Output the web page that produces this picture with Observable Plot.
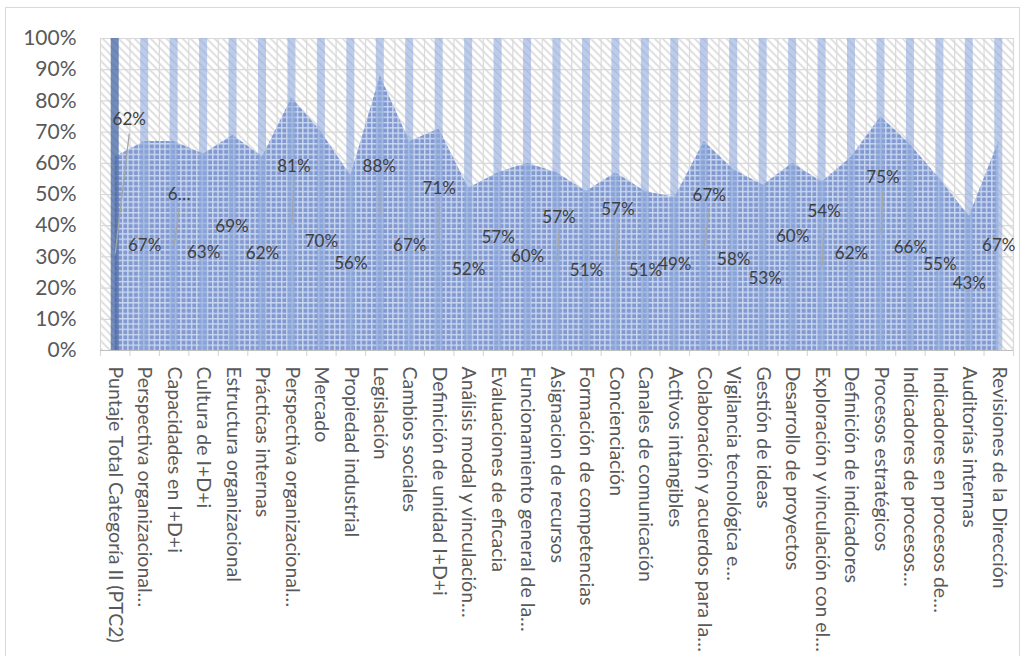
<!DOCTYPE html>
<html><head><meta charset="utf-8">
<script src="https://cdn.jsdelivr.net/npm/d3@7"></script>
<script src="https://cdn.jsdelivr.net/npm/@observablehq/plot@0.6"></script>
<style>
html,body{margin:0;padding:0;background:#fff;}
#wrap{position:relative;width:1027px;height:656px;overflow:hidden;}
#chart{position:absolute;left:0;top:0;}
#border{position:absolute;left:5px;top:7px;width:1015px;height:660px;border:1px solid #d9d9d9;box-sizing:border-box;pointer-events:none;}
</style></head><body>
<div id="wrap"><div id="chart"></div><div id="border"></div></div>
<script>
const categories = [
  "Puntaje Total Categoría II (PTC2)",
  "Perspectiva organizacional…",
  "Capacidades en I+D+i",
  "Cultura de I+D+i",
  "Estructura organizacional",
  "Prácticas internas",
  "Perspectiva organizacional…",
  "Mercado",
  "Propiedad industrial",
  "Legislación",
  "Cambios sociales",
  "Definición de unidad I+D+i",
  "Análisis modal y vinculación…",
  "Evaluaciones de eficacia",
  "Funcionamiento general de la…",
  "Asignacion de recursos",
  "Formación de competencias",
  "Concienciación",
  "Canales de comunicación",
  "Activos intangibles",
  "Colaboración y acuerdos para la…",
  "Vigilancia tecnológica e…",
  "Gestión de ideas",
  "Desarrollo de proyectos",
  "Exploración y vinculación con el…",
  "Definición de indicadores",
  "Procesos estratégicos",
  "Indicadores de procesos…",
  "Indicadores en procesos de…",
  "Auditorías internas",
  "Revisiones de la Dirección"
];
const scores = [0.62,0.67,0.67,0.63,0.69,0.62,0.81,0.70,0.56,0.88,0.67,0.71,0.52,0.57,0.60,0.57,0.51,0.57,0.51,0.49,0.67,0.58,0.53,0.60,0.54,0.62,0.75,0.66,0.55,0.43,0.67];
const maxScores = [1,1,1,1,1,1,1,1,1,1,1,1,1,1,1,1,1,1,1,1,1,1,1,1,1,1,1,1,1,1,1];
const dataLabels = ["62%","67%","6…","63%","69%","62%","81%","70%","56%","88%","67%","71%","52%","57%","60%","57%","51%","57%","51%","49%","67%","58%","53%","60%","54%","62%","75%","66%","55%","43%","67%"];
const yTicks = [0,0.1,0.2,0.3,0.4,0.5,0.6,0.7,0.8,0.9,1.0];

// label placement (Excel moved labels): level in axis units, horizontal nudge in px, leader line
const labelMoves = {
  0:{at:0.740,dx:14,leader:true}, 2:{at:0.50,dx:5,leader:true}, 4:{at:0.398,dx:-1},
  6:{at:0.591,dx:2,leader:true}, 9:{at:0.588,dx:-1,leader:true}, 11:{at:0.518,dx:0,leader:true},
  13:{at:0.363,dx:0}, 15:{at:0.427,dx:2,leader:true}, 17:{at:0.451,dx:2,leader:true},
  19:{at:0.275,dx:0}, 20:{at:0.497,dx:5,leader:true}, 22:{at:0.232,dx:2}, 23:{at:0.365,dx:0},
  24:{at:0.446,dx:2,leader:true}, 26:{at:0.555,dx:2,leader:true}
};

const W = 1027, H = 656, mL = 100, mR = 14, mT = 38, mB = 306;
const n = categories.length;
const bw = (W - mL - mR) / n;
const plotH = H - mT - mB;
const barHalf = 4 / bw;

const rows = categories.map((c, i) => {
  const mv = labelMoves[i] || {};
  return {
    i, cat: c, pos: i + 0.5, value: scores[i], max: maxScores[i], label: dataLabels[i],
    at: mv.at != null ? mv.at : scores[i] / 2,
    dx: mv.dx || 0, leader: !!mv.leader
  };
});
const boundaries = categories.map((_, i) => i).concat([n]);

const textMarks = rows.map(r => Plot.text([r], {
  x: "pos", y: "at", text: "label", dx: r.dx, fontSize: 17, fill: "#404040"
}));

const plot = Plot.plot({
  width: W, height: H,
  marginLeft: mL, marginRight: mR, marginTop: mT, marginBottom: mB,
  x: {domain: [0, n], label: null},
  y: {domain: [0, 1], label: null},
  style: {fontFamily: "Lato, sans-serif", background: "transparent", overflow: "visible"},
  marks: [
    Plot.frame({fill: "url(#hatch)", stroke: "none"}),
    Plot.ruleY(yTicks.slice(1), {stroke: "#d9d9d9", strokeWidth: 1.2}),
    Plot.ruleX(boundaries, {stroke: "#d9d9d9", strokeWidth: 1.2, insetBottom: -6}),
    Plot.areaY(rows, {x: "pos", y: "value", fill: "url(#gridfill)", curve: "linear"}),
    Plot.rectY(rows.filter(r => r.i > 0), {x1: d => d.pos - barHalf, x2: d => d.pos + barHalf, y1: 0, y2: "max", fill: "#8faadc", fillOpacity: 0.6}),
    Plot.rectY(rows.filter(r => r.i === 0), {x1: d => d.pos - barHalf, x2: d => d.pos + barHalf, y1: 0, y2: "max", fill: "#3f5f9e", fillOpacity: 0.72}),
    Plot.ruleY([0], {stroke: "#bfbfbf", strokeWidth: 1.2}),
    Plot.link(rows.filter(r => r.leader), {
      x1: d => d.pos + d.dx / bw, y1: d => d.at - 14 / plotH,
      x2: "pos", y2: d => d.value / 2, stroke: "#a6a6a6", strokeWidth: 1.3
    }),
    ...textMarks,
    Plot.axisY(yTicks, {tickFormat: d3.format(".0%"), tickSize: 0, tickPadding: 24, fontSize: 21, fill: "#595959", label: null}),
    Plot.axisX(rows.map(r => r.pos), {tickFormat: d => categories[Math.round(d - 0.5)], tickRotate: 90, tickSize: 0, tickPadding: 16, fontSize: 19.5, fill: "#595959", label: null})
  ]
});

const svg = d3.select(plot);
const defs = svg.insert("defs", ":first-child");
const hatch = defs.append("pattern").attr("id", "hatch").attr("patternUnits", "userSpaceOnUse").attr("width", 8).attr("height", 8);
hatch.append("rect").attr("width", 8).attr("height", 8).attr("fill", "#ffffff");
hatch.append("path").attr("d", "M0,0L8,8M-1,7L1,9M7,-1L9,1").attr("stroke", "#d2d2d2").attr("stroke-width", 1.4);
const grid = defs.append("pattern").attr("id", "gridfill").attr("patternUnits", "userSpaceOnUse").attr("width", 5.3).attr("height", 5.3);
grid.append("rect").attr("width", 5.3).attr("height", 5.3).attr("fill", "#cad7f0");
grid.append("rect").attr("x", 1.4).attr("y", 1.4).attr("width", 3.9).attr("height", 3.9).attr("fill", "#8198d0");

document.getElementById("chart").appendChild(plot);
</script>
</body></html>
